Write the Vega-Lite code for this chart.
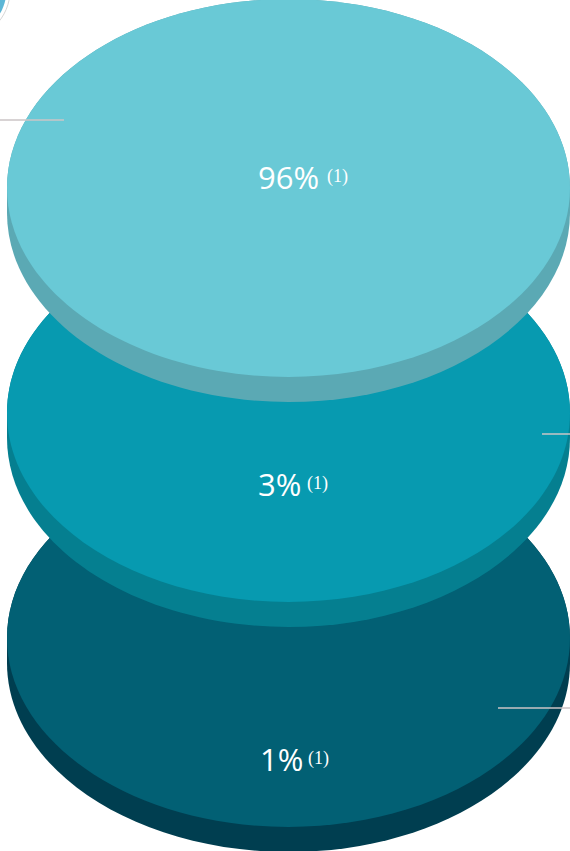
{
  "$schema": "https://vega.github.io/schema/vega-lite/v6.json",
  "autosize": {"type": "none"},
  "width": 570,
  "height": 851,
  "padding": 0,
  "background": "white",
  "datasets": {
    "parts": [
      {"tier": "1%", "rank": 3, "surface": "side", "part": "1% side"},
      {"tier": "1%", "rank": 3, "surface": "face", "part": "1% face"},
      {"tier": "3%", "rank": 2, "surface": "side", "part": "3% side"},
      {"tier": "3%", "rank": 2, "surface": "face", "part": "3% face"},
      {"tier": "96%", "rank": 1, "surface": "side", "part": "96% side"},
      {"tier": "96%", "rank": 1, "surface": "face", "part": "96% face"}
    ],
    "tiers": [
      {"tier": "96%", "rank": 1, "note": "(1)"},
      {"tier": "3%", "rank": 2, "note": "(1)"},
      {"tier": "1%", "rank": 3, "note": "(1)"}
    ]
  },
  "layer": [
    {
      "data": {"name": "parts"},
      "mark": {"type": "point", "filled": true, "opacity": 1, "strokeWidth": 0, "xOffset": 3.5},
      "encoding": {
        "y": {"field": "rank", "type": "ordinal", "axis": null, "scale": {"range": [188, 638], "padding": 0}},
        "shape": {
          "field": "surface",
          "type": "nominal",
          "legend": null,
          "scale": {
            "domain": ["side", "face"],
            "range": [
              "M -1 0 L -1 0.089 A 1 0.671 0 0 0 1 0.089 L 1 0 A 1 0.671 0 0 0 -1 0 Z",
              "M -1 0 A 1 0.671 0 1 0 1 0 A 1 0.671 0 1 0 -1 0 Z"
            ]
          }
        },
        "color": {
          "field": "part",
          "type": "nominal",
          "legend": null,
          "scale": {
            "domain": ["1% side", "1% face", "3% side", "3% face", "96% side", "96% face"],
            "range": ["#003e50", "#026074", "#057f90", "#079ab0", "#5ba9b4", "#69c9d6"]
          }
        },
        "size": {"value": 316969}
      }
    },
    {
      "data": {"name": "tiers"},
      "transform": [{"filter": "datum.rank == 1"}],
      "layer": [
        {
          "mark": {
            "type": "point", "filled": false, "opacity": 1, "stroke": "#d6d6d6", "strokeWidth": 1, "xOffset": 3.5,
            "shape": "M -1.345 -0.7034 A 0.178 0.178 0 1 0 -0.989 -0.7034 A 0.178 0.178 0 1 0 -1.345 -0.7034 Z",
            "size": 316969
          },
          "encoding": {"y": {"field": "rank", "type": "ordinal", "axis": null}}
        },
        {
          "mark": {
            "type": "point", "filled": true, "opacity": 1, "color": "#5cb6d6", "strokeWidth": 0, "xOffset": 3.5,
            "shape": "M -1.332 -0.7034 A 0.165 0.165 0 1 0 -1.002 -0.7034 A 0.165 0.165 0 1 0 -1.332 -0.7034 Z",
            "size": 316969
          },
          "encoding": {"y": {"field": "rank", "type": "ordinal", "axis": null}}
        }
      ]
    },
    {
      "data": {"name": "tiers"},
      "mark": {"type": "point", "filled": false, "opacity": 1, "stroke": "#cbc4c6", "strokeWidth": 1.5, "xOffset": 3.5},
      "encoding": {
        "y": {"field": "rank", "type": "ordinal", "axis": null},
        "shape": {
          "field": "tier",
          "type": "nominal",
          "legend": null,
          "scale": {
            "domain": ["96%", "3%", "1%"],
            "range": [
              "M -1.03 -0.2416 L -0.7975 -0.2416",
              "M 0.9005 0.0746 L 1.01 0.0746",
              "M 0.7442 0.2487 L 1.01 0.2487"
            ]
          }
        },
        "size": {"value": 316969}
      }
    },
    {
      "data": {"name": "tiers"},
      "transform": [{"filter": "datum.rank == 1"}],
      "layer": [
        {
          "mark": {"type": "text", "align": "left", "baseline": "alphabetic", "dx": -27, "dy": 1, "font": "Open Sans", "fontSize": 31, "color": "white"},
          "encoding": {"y": {"field": "rank", "type": "ordinal", "axis": null}, "text": {"field": "tier"}}
        },
        {
          "mark": {"type": "text", "align": "left", "baseline": "alphabetic", "dx": 42, "dy": -6, "font": "Liberation Serif", "fontSize": 18, "color": "white"},
          "encoding": {"y": {"field": "rank", "type": "ordinal", "axis": null}, "text": {"field": "note"}}
        }
      ]
    },
    {
      "data": {"name": "tiers"},
      "transform": [{"filter": "datum.rank == 2"}],
      "layer": [
        {
          "mark": {"type": "text", "align": "left", "baseline": "alphabetic", "dx": -27, "dy": 83, "font": "Open Sans", "fontSize": 31, "color": "white"},
          "encoding": {"y": {"field": "rank", "type": "ordinal", "axis": null}, "text": {"field": "tier"}}
        },
        {
          "mark": {"type": "text", "align": "left", "baseline": "alphabetic", "dx": 22, "dy": 76, "font": "Liberation Serif", "fontSize": 18, "color": "white"},
          "encoding": {"y": {"field": "rank", "type": "ordinal", "axis": null}, "text": {"field": "note"}}
        }
      ]
    },
    {
      "data": {"name": "tiers"},
      "transform": [{"filter": "datum.rank == 3"}],
      "layer": [
        {
          "mark": {"type": "text", "align": "left", "baseline": "alphabetic", "dx": -25, "dy": 133, "font": "Open Sans", "fontSize": 31, "color": "white"},
          "encoding": {"y": {"field": "rank", "type": "ordinal", "axis": null}, "text": {"field": "tier"}}
        },
        {
          "mark": {"type": "text", "align": "left", "baseline": "alphabetic", "dx": 23, "dy": 126, "font": "Liberation Serif", "fontSize": 18, "color": "white"},
          "encoding": {"y": {"field": "rank", "type": "ordinal", "axis": null}, "text": {"field": "note"}}
        }
      ]
    }
  ],
  "resolve": {"scale": {"shape": "independent"}},
  "config": {
    "view": {"stroke": null}
  }
}
